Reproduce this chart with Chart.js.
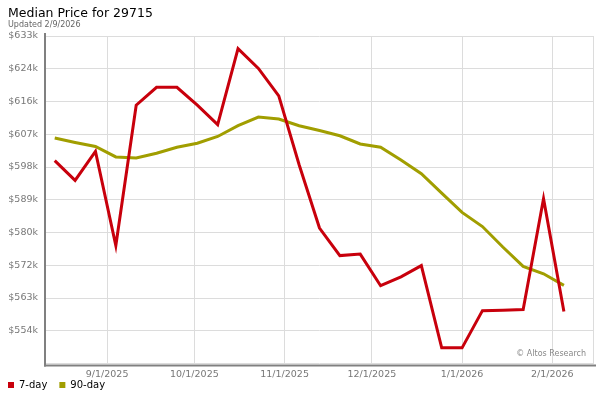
<!DOCTYPE html>
<html>
<head>
<meta charset="utf-8">
<script src="https://cdn.jsdelivr.net/npm/chart.js@4/dist/chart.umd.min.js"></script>
<style>
  html, body { margin: 0; padding: 0; background: #fff; }
</style>
</head>
<body>
<canvas id="myChart" width="600" height="400"></canvas>
<script>
// weekly points, values in $k
const weeks = [
  '2025-08-14', '2025-08-21', '2025-08-28', '2025-09-04', '2025-09-11', '2025-09-18', '2025-09-25',
  '2025-10-02', '2025-10-09', '2025-10-16', '2025-10-23', '2025-10-30', '2025-11-06', '2025-11-13',
  '2025-11-20', '2025-11-27', '2025-12-04', '2025-12-11', '2025-12-18', '2025-12-25', '2026-01-01',
  '2026-01-08', '2026-01-15', '2026-01-22', '2026-01-29', '2026-02-05'
]
const sevenDay = [
  599.7, 594.4, 602.2, 576.9, 614.6, 619.4, 619.4, 614.6, 609.4, 629.8, 624.5, 617.1, 598.6,
  581.6, 574.2, 574.6, 566.1, 568.5, 571.5, 549.4, 549.4, 559.4, 559.5, 559.7, 589.5, 559.2
]
const ninetyDay = [
  605.8, 604.6, 603.5, 600.7, 600.4, 601.7, 603.3, 604.4, 606.2, 609.1, 611.4, 610.9, 609.1,
  607.8, 606.4, 604.2, 603.3, 599.9, 596.2, 591.0, 585.8, 582.0, 576.5, 571.3, 569.3, 566.2
]
const monthTicks = ['2025-09-01', '2025-10-01', '2025-11-01', '2025-12-01', '2026-01-01', '2026-02-01']
const monthLabels = ['9/1/2025', '10/1/2025', '11/1/2025', '12/1/2025', '1/1/2026', '2/1/2026']
const priceTicks = [545.2, 554, 562.8, 571.6, 580.4, 589.2, 598, 606.8, 615.6, 624.4, 633.2]
const priceLabels = ['', '$554k', '$563k', '$572k', '$580k', '$589k', '$598k', '$607k', '$616k', '$624k', '$633k']

const day = (s) => {
  const [y, m, d] = s.split('-').map(Number)
  return Date.UTC(y, m - 1, d) / 864e5
}
const xMin = day('2025-08-11')
const xMax = day('2026-02-15')

Chart.defaults.font.family = '"DejaVu Sans", sans-serif'

// the grey frame on the left and bottom, plus the watermark
const frame = {
  id: 'frame',
  afterLayout(chart) {
    // legend padding is 12 for the gap between items; shift it back so
    // the first box lines up under the title and sits right under the axis
    chart.legend.left -= 12
    chart.legend.top -= 12
  },
  afterDraw(chart) {
    const { ctx, chartArea: a } = chart
    ctx.save()
    ctx.fillStyle = '#808080'
    ctx.fillRect(a.left - 2, a.top - 3, 2, a.bottom - a.top + 6)
    ctx.fillRect(a.left - 2, a.bottom + 1, a.right - a.left + 5, 2)
    ctx.fillStyle = '#888'
    ctx.font = '8px "DejaVu Sans"'
    ctx.textAlign = 'right'
    ctx.textBaseline = 'middle'
    ctx.fillText('\u00A9 Altos Research', a.right - 7, a.bottom - 10)
    ctx.restore()
  }
}

const ctx = document.getElementById('myChart').getContext('2d')

new Chart(ctx, {
  type: 'line',
  data: {
    datasets: [{
      label: '7-day',
      data: weeks.map((w, i) => ({ x: day(w), y: sevenDay[i] })),
      borderColor: '#c8000c',
      backgroundColor: '#c8000c',
      borderWidth: 3,
      pointRadius: 0,
      fill: false,
      tension: 0
    },
    {
      label: '90-day',
      data: weeks.map((w, i) => ({ x: day(w), y: ninetyDay[i] })),
      borderColor: '#a19e00',
      backgroundColor: '#a19e00',
      borderWidth: 3,
      pointRadius: 0,
      fill: false,
      tension: 0
    }]
  },
  options: {
    responsive: false,
    animation: false,
    layout: {
      padding: { left: 8, right: 7, top: 0, bottom: 0 }
    },
    scales: {
      x: {
        type: 'linear',
        min: xMin,
        max: xMax,
        afterBuildTicks: (s) => {
          s.ticks = monthTicks.map(d => ({ value: day(d) })).concat([{ value: xMax }])
        },
        afterFit: (s) => { s.height = 16.5 },
        grid: { color: '#dcdcdc', drawTicks: false },
        border: { display: false },
        ticks: {
          autoSkip: false,
          maxRotation: 0,
          padding: 5,
          color: '#777',
          font: { size: 9.5 },
          callback: (v, i) => monthLabels[i] || ''
        }
      },
      y: {
        min: 545.2,
        max: 633.2,
        afterBuildTicks: (s) => {
          s.ticks = priceTicks.map(v => ({ value: v }))
        },
        afterFit: (s) => { s.width = 38 },
        grid: { color: '#dcdcdc', drawTicks: false },
        border: { display: false },
        ticks: {
          padding: 8,
          color: '#777',
          font: { size: 9.5 },
          callback: (v, i) => priceLabels[i]
        }
      }
    },
    plugins: {
      title: {
        display: true,
        text: 'Median Price for 29715',
        align: 'start',
        color: '#000',
        font: { size: 12.5, weight: 'normal', lineHeight: 1.2 },
        padding: { top: 6, bottom: 0 }
      },
      subtitle: {
        display: true,
        text: 'Updated 2/9/2026',
        align: 'start',
        color: '#666',
        font: { size: 8, lineHeight: 1 },
        padding: { top: 0, bottom: 7 }
      },
      legend: {
        position: 'bottom',
        align: 'start',
        maxHeight: 20,
        labels: {
          boxWidth: 6,
          boxHeight: 6,
          padding: 12,
          color: '#000',
          font: { size: 10 },
          generateLabels: (chart) => Chart.defaults.plugins.legend.labels.generateLabels(chart)
            .map(l => ({ ...l, lineWidth: 0 }))
        }
      },
      tooltip: { enabled: false }
    }
  },
  plugins: [frame]
})
</script>
</body>
</html>
